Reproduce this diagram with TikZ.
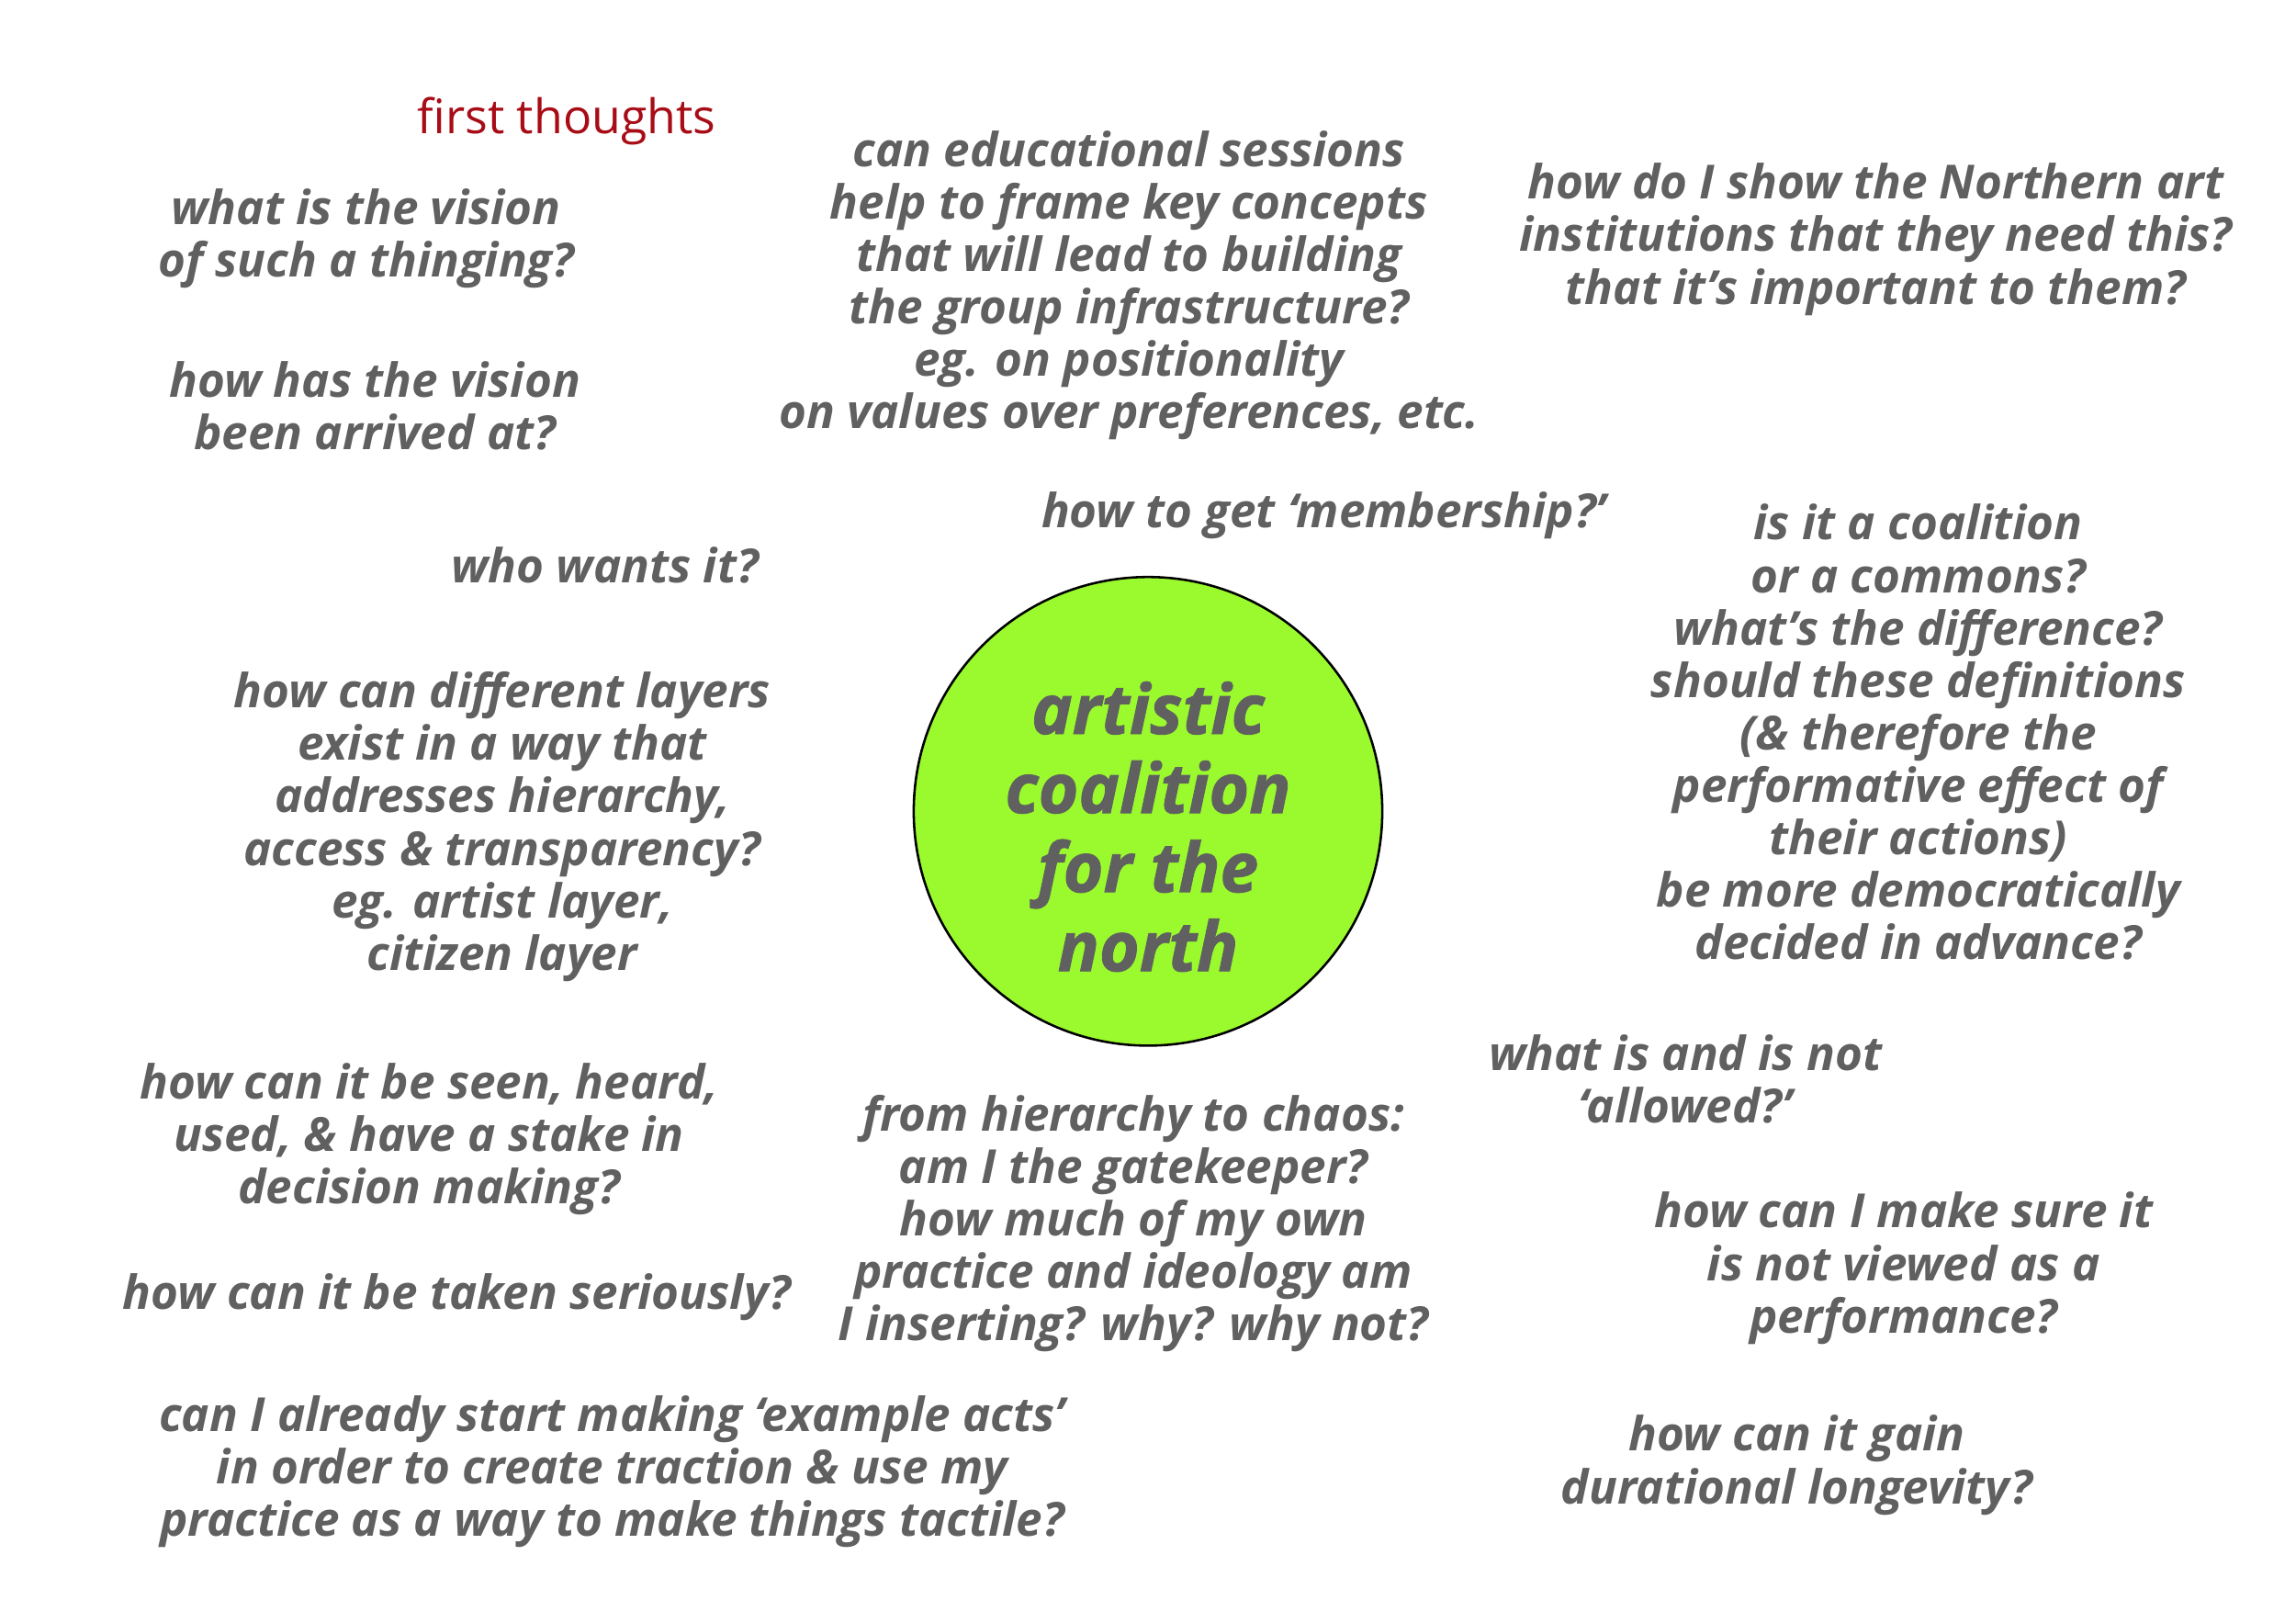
\documentclass[tikz,border=0pt]{standalone}
\usepackage{fontspec}
\setmainfont{Open Sans}
\newfontfamily\hubfont{Open Sans}[BoldItalicFeatures={FakeBold=1.2}]
\definecolor{textgrey}{RGB}{96,96,96}
\definecolor{hublime}{RGB}{154,250,46}
\definecolor{thoughtred}{RGB}{168,12,22}
\begin{document}
\begin{tikzpicture}[x=1pt,y=-1pt,
  question/.style={align=center,inner sep=0pt,text=textgrey,
    font=\fontsize{32.1}{35.8}\selectfont\bfseries\itshape},
  hub/.style={circle,draw=black,line width=1.6pt,fill=hublime,
    minimum size=320pt,inner sep=0pt},
  hubtext/.style={align=center,inner sep=0pt,text=textgrey,
    font=\hubfont\fontsize{47}{54}\selectfont\bfseries\itshape}]
\fill[white] (0,0) rectangle (1568,1108);
\useasboundingbox (0,0) rectangle (1568,1108);

\node[text=thoughtred,font=\fontsize{32.5}{36}\selectfont,inner sep=0pt] (title) at (387,83) {first thoughts};

% left column
\node[question] (vision) at (250,163) {what is the vision\\of such a thinging?};
\node[question] (arrived) at (256,277) {how has the vision\\been arrived at?};
\node[question] (wants) at (413,386) {who wants it?};
\node[question] (layers) at (343,564.5) {how can different layers\\exist in a way that\\addresses hierarchy,\\access \& transparency?\\eg. artist layer,\\citizen layer};
\node[question] (seen) at (293,778) {how can it be seen, heard,\\used, \& have a stake in\\decision making?};
\node[question] (seriously) at (312,886) {how can it be taken seriously?};
\node[question] (acts) at (418,1005) {can I already start making ‘example acts’\\in order to create traction \& use my\\practice as a way to make things tactile?};

% middle column
\node[question] (sessions) at (771,195) {can educational sessions\\help to frame key concepts\\that will lead to building\\the group infrastructure?\\eg. on positionality\\on values over preferences, etc.};
\node[question] (membership) at (904,352) {how to get ‘membership?’};
\node[hub] (hub) at (784,554) {};
\node[hubtext] (hubname) at (784,564.5) {artistic\\coalition\\for the\\north};
\node[question] (chaos) at (774,835.5) {from hierarchy to chaos:\\am I the gatekeeper?\\how much of my own\\practice and ideology am\\I inserting? why? why not?};

% right column
\node[question] (northern) at (1281,163.5) {how do I show the Northern art\\institutions that they need this?\\that it’s important to them?};
\node[question] (commons) at (1310,500) {is it a coalition\\or a commons?\\what’s the difference?\\should these definitions\\(\& therefore the\\performative effect of\\their actions)\\be more democratically\\decided in advance?};
\node[question] (allowed) at (1151,737) {what is and is not\\‘allowed?’};
\node[question] (performance) at (1300,866) {how can I make sure it\\is not viewed as a\\performance?};
\node[question] (longevity) at (1227,1000.5) {how can it gain\\durational longevity?};
\end{tikzpicture}
\end{document}
